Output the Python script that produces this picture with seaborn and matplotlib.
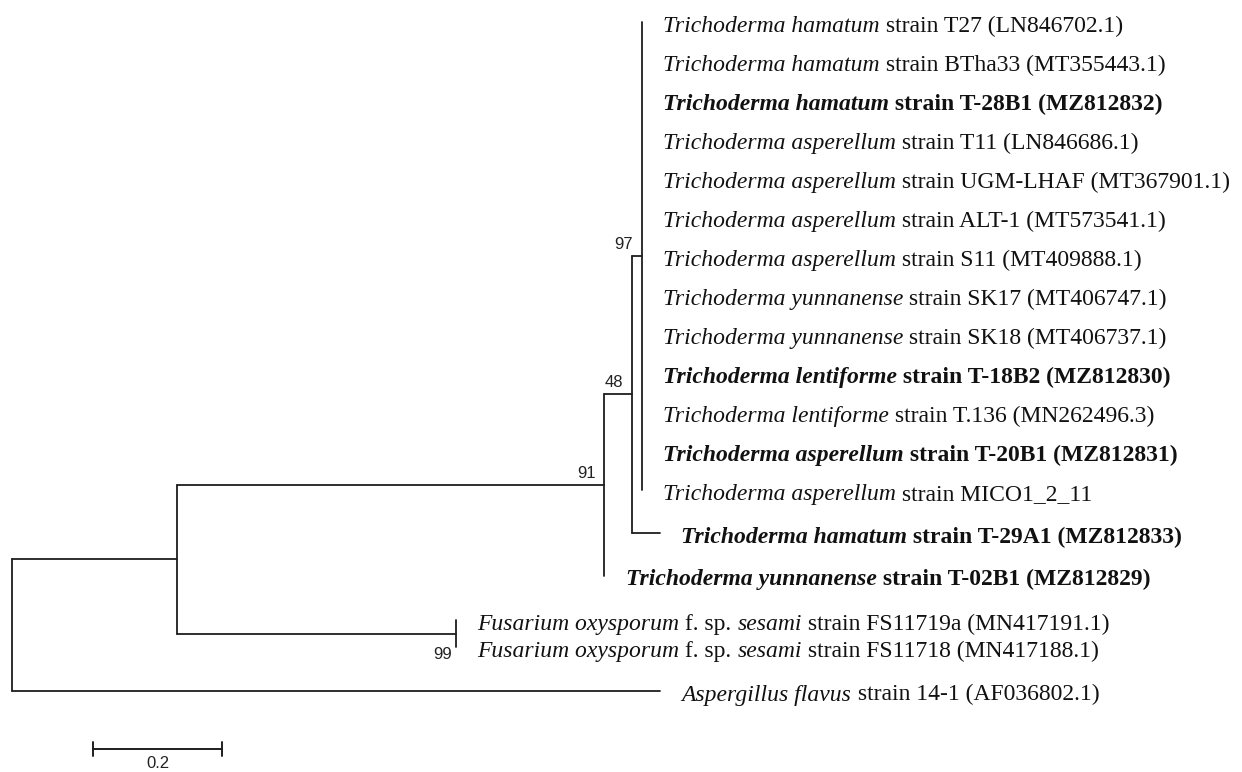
import numpy as np
import pandas as pd
import matplotlib
matplotlib.use("Agg")
import matplotlib.pyplot as plt
import seaborn as sns

# tips, top to bottom
species = [
    "Trichoderma hamatum", "Trichoderma hamatum", "Trichoderma hamatum",
    "Trichoderma asperellum", "Trichoderma asperellum", "Trichoderma asperellum",
    "Trichoderma asperellum", "Trichoderma yunnanense", "Trichoderma yunnanense",
    "Trichoderma lentiforme", "Trichoderma lentiforme", "Trichoderma asperellum",
    "Trichoderma asperellum", "Trichoderma hamatum", "Trichoderma yunnanense",
    "Fusarium oxysporum", "Fusarium oxysporum", "Aspergillus flavus",
]
forma = [None] * 15 + ["sesami", "sesami", None]
strains = [
    "strain T27 (LN846702.1)", "strain BTha33 (MT355443.1)", "strain T-28B1 (MZ812832)",
    "strain T11 (LN846686.1)", "strain UGM-LHAF (MT367901.1)", "strain ALT-1 (MT573541.1)",
    "strain S11 (MT409888.1)", "strain SK17 (MT406747.1)", "strain SK18 (MT406737.1)",
    "strain T-18B2 (MZ812830)", "strain T.136 (MN262496.3)", "strain T-20B1 (MZ812831)",
    "strain MICO1_2_11", "strain T-29A1 (MZ812833)", "strain T-02B1 (MZ812829)",
    "strain FS11719a (MN417191.1)", "strain FS11718 (MN417188.1)", "strain 14-1 (AF036802.1)",
]
highlight = [False, False, True, False, False, False, False, False, False,
             True, False, True, False, True, True, False, False, False]
tip_parent = ["n97"] * 13 + ["n48", "n91", "nFus", "nFus", "root"]
tip_length = [0.0] * 13 + [0.043, 0.0, 0.0, 0.0, 1.005]

# internal nodes (listed from the root outwards)
nodes = ["nInner", "n91", "nFus", "n48", "n97"]
node_parent = ["root", "nInner", "nInner", "n91", "n48"]
node_length = [0.256, 0.662, 0.432, 0.043, 0.015]
node_support = [None, 91, 99, 48, 97]

scale_len = 0.2

# layout: vertical slot of each tip (row units)
tip_rows = list(range(13)) + [13.1, 14.2, 15.33, 16.03, 17.15]

# ---- compute tree coordinates
xpos = {"root": 0.0}
for n, p, l in zip(nodes, node_parent, node_length):
    xpos[n] = xpos[p] + l
tips = [f"t{i}" for i in range(len(species))]
for t, p, l in zip(tips, tip_parent, tip_length):
    xpos[t] = xpos[p] + l

ypos = dict(zip(tips, tip_rows))
children = {}
for t, p in zip(tips, tip_parent):
    children.setdefault(p, []).append(t)
for n, p in zip(nodes, node_parent):
    children.setdefault(p, []).append(n)
for n in list(reversed(nodes)) + ["root"]:
    ys = [ypos[c] for c in children[n]]
    ypos[n] = (min(ys) + max(ys)) / 2

# one segment per horizontal branch and per vertical node bar
rows = []
seg = 0
for c, p in list(zip(tips, tip_parent)) + list(zip(nodes, node_parent)):
    rows += [(seg, xpos[p], ypos[c]), (seg, xpos[c], ypos[c])]
    seg += 1
for n in ["root"] + nodes:
    ys = [ypos[c] for c in children[n]]
    rows += [(seg, xpos[n], min(ys)), (seg, xpos[n], max(ys))]
    seg += 1
edges = pd.DataFrame(rows, columns=["seg", "x", "y"])

# ---- figure
sns.set_theme(style="white")
fig = plt.figure(figsize=(12.42, 7.72), dpi=100)
ax = fig.add_axes([0, 0, 1, 1])
px = 645.0  # pixels per unit of branch length

line_col = "#1e1e1e"
sns.lineplot(data=edges, x="x", y="y", units="seg", estimator=None, sort=False,
             color=line_col, linewidth=1.3, ax=ax, legend=False)
ax.set_xlim(-12 / px, 1230 / px)
ax.set_ylim(750 / 39, -22 / 39)
ax.axis("off")

serif = ["Liberation Serif", "DejaVu Serif"]
fs = 17


def draw_label(x, y, parts, bold):
    w = "bold" if bold else "normal"
    t = None
    for s, it in parts:
        kw = dict(fontsize=fs, family=serif, fontweight=w,
                  fontstyle="italic" if it else "normal", color="#111111")
        if t is None:
            t = ax.annotate(s, xy=(x, y), xytext=(15.5, -3), textcoords="offset points",
                            va="center", ha="left", **kw)
        else:
            t = ax.annotate(s, xy=(1, 0), xycoords=t, va="bottom", ha="left", **kw)


for t, sp, fm, st, hl in zip(tips, species, forma, strains, highlight):
    if fm:
        parts = [(sp, True), (" f. sp. ", False), (fm, True), (" " + st, False)]
    else:
        parts = [(sp, True), (" " + st, False)]
    draw_label(xpos[t], ypos[t], parts, hl)

sans = ["Liberation Sans Narrow", "Liberation Sans"]
for n, s in zip(nodes, node_support):
    if s is None:
        continue
    if n == "nFus":
        ax.annotate(str(s), xy=(xpos[n], ypos[n]), xytext=(-3, -10),
                    textcoords="offset points", ha="right", va="top",
                    fontsize=12, family=sans, color="#222222")
    else:
        ax.annotate(str(s), xy=(xpos[n], ypos[n]), xytext=(-6, 3),
                    textcoords="offset points", ha="right", va="bottom",
                    fontsize=12, family=sans, color="#222222")

# scale bar
sb_x0 = 81 / px
sb_y = (749 - 22) / 39
ax.plot([sb_x0, sb_x0 + scale_len], [sb_y, sb_y], color=line_col, lw=1.4)
for xx in (sb_x0, sb_x0 + scale_len):
    ax.plot([xx, xx], [sb_y - 0.17, sb_y + 0.17], color=line_col, lw=1.4)
ax.annotate(f"{scale_len:.1f}", xy=(sb_x0 + scale_len / 2, sb_y), xytext=(0, -5),
            textcoords="offset points", ha="center", va="top",
            fontsize=12, family=sans, color="#222222")

fig.savefig("out.png", dpi=100, facecolor="white")
